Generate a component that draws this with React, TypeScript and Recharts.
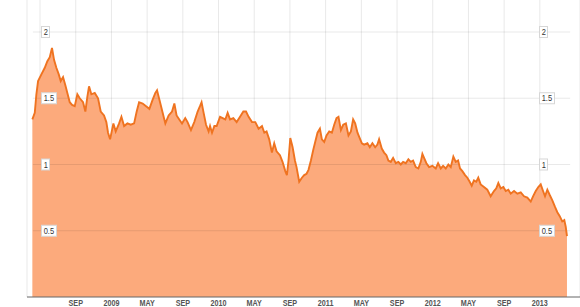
import React from "react";
import {
  ComposedChart,
  Area,
  Line,
  XAxis,
  YAxis,
  CartesianGrid,
  ReferenceLine,
} from "recharts";

// time in months since Jan 2008 (t=12 -> Jan 2009)
const months: number[] = [
  3.14, 3.41, 3.59, 3.78, 4.15, 4.53, 4.82, 5.09, 5.34, 5.57, 5.83, 6.1, 6.32, 6.58, 6.83, 7.06, 7.33, 7.59, 7.89,
  8.18, 8.45, 8.82, 9.08, 9.3, 9.49, 9.75, 10.13, 10.5, 10.8, 11.17, 11.43, 11.62, 11.85, 12.22, 12.48, 12.86,
  13.12, 13.42, 13.79, 14.16, 14.54, 14.83, 15.1, 15.5, 15.88, 16.25, 16.62, 16.92, 17.11, 17.37, 17.74, 18.04,
  18.41, 18.79, 19.05, 19.3, 19.6, 19.91, 20.27, 20.53, 20.91, 21.28, 21.66, 21.92, 22.1, 22.33, 22.6, 22.89,
  23.05, 23.27, 23.53, 23.79, 24.17, 24.46, 24.76, 25.02, 25.29, 25.66, 26.03, 26.41, 26.78, 27.08, 27.37, 27.75,
  28.12, 28.49, 28.87, 29.13, 29.38, 29.68, 29.98, 30.24, 30.5, 30.88, 31.17, 31.48, 31.66, 31.84, 32.04, 32.3,
  32.56, 32.74, 33.04, 33.34, 33.6, 33.86, 34.08, 34.35, 34.61, 34.83, 35.09, 35.36, 35.58, 35.84, 36.1, 36.4,
  36.7, 36.96, 37.22, 37.44, 37.71, 37.97, 38.27, 38.56, 38.83, 39.08, 39.31, 39.57, 39.75, 40.06, 40.31, 40.68,
  40.95, 41.24, 41.55, 41.8, 41.99, 42.29, 42.55, 42.81, 43.03, 43.3, 43.56, 43.86, 44.15, 44.42, 44.68, 44.98,
  45.27, 45.54, 45.8, 46.1, 46.39, 46.66, 46.84, 47.03, 47.29, 47.59, 47.96, 48.34, 48.6, 48.9, 49.16, 49.46,
  49.75, 50.02, 50.31, 50.58, 50.84, 51.06, 51.32, 51.62, 51.88, 52.14, 52.37, 52.62, 52.88, 53.1, 53.37, 53.74,
  54.11, 54.49, 54.86, 55.12, 55.35, 55.62, 55.91, 56.18, 56.47, 56.74, 57.11, 57.48, 57.86, 58.23, 58.6, 58.98,
  59.24, 59.54, 59.83, 60.1, 60.36, 60.58, 60.84, 61.11, 61.4, 61.7, 61.96, 62.23, 62.51, 62.74, 62.9, 63.04,
];

const values: number[] = [
  1.34, 1.39, 1.53, 1.63, 1.68, 1.73, 1.78, 1.81, 1.88, 1.79, 1.73, 1.68, 1.63, 1.66, 1.6, 1.54, 1.47, 1.45, 1.44,
  1.53, 1.5, 1.47, 1.4, 1.51, 1.59, 1.53, 1.54, 1.5, 1.4, 1.37, 1.32, 1.24, 1.19, 1.31, 1.25, 1.31,
  1.36, 1.29, 1.31, 1.3, 1.31, 1.4, 1.47, 1.46, 1.44, 1.42, 1.49, 1.54, 1.56, 1.49, 1.39, 1.31,
  1.37, 1.4, 1.46, 1.37, 1.34, 1.31, 1.35, 1.32, 1.26, 1.32, 1.4, 1.44, 1.47, 1.39, 1.3, 1.25,
  1.29, 1.24, 1.29, 1.29, 1.36, 1.35, 1.34, 1.39, 1.34, 1.35, 1.32, 1.36, 1.4, 1.4, 1.36, 1.32,
  1.32, 1.27, 1.29, 1.24, 1.25, 1.19, 1.09, 1.16, 1.1, 1.07, 1.02, 0.95, 0.92, 1.03, 1.2, 1.13,
  1.03, 0.98, 0.87, 0.9, 0.92, 0.93, 0.96, 1.03, 1.11, 1.17, 1.24, 1.27, 1.19, 1.17, 1.22, 1.25,
  1.24, 1.3, 1.35, 1.36, 1.26, 1.3, 1.31, 1.22, 1.25, 1.34, 1.31, 1.24, 1.21, 1.16, 1.15, 1.16,
  1.13, 1.16, 1.13, 1.15, 1.19, 1.12, 1.09, 1.07, 1.03, 1.02, 1.05, 1.01, 1.02, 1.0, 1.02, 1.01,
  1.04, 1.02, 1.03, 0.98, 0.97, 1.02, 1.08, 1.05, 1.01, 0.98, 0.99, 0.97, 1.01, 0.97, 0.99, 0.97,
  1.0, 0.98, 1.06, 1.02, 1.03, 0.97, 0.95, 0.92, 0.9, 0.87, 0.84, 0.88, 0.87, 0.9, 0.85, 0.83,
  0.81, 0.76, 0.8, 0.82, 0.86, 0.82, 0.83, 0.8, 0.81, 0.78, 0.8, 0.78, 0.79, 0.76, 0.75, 0.72,
  0.76, 0.8, 0.83, 0.85, 0.8, 0.76, 0.81, 0.77, 0.73, 0.68, 0.64, 0.61, 0.57, 0.58, 0.53, 0.46,
];

const xTicks: number[] = [4, 8, 12, 16, 20, 24, 28, 32, 36, 40, 44, 48, 52, 56, 60];
const xTickLabels: string[] = [
  "", "SEP", "2009", "MAY", "SEP", "2010", "MAY", "SEP", "2011", "MAY", "SEP", "2012", "MAY", "SEP", "2013",
];
const yTicks: number[] = [0.5, 1, 1.5, 2];
const yTickLabels: string[] = ["0.5", "1", "1.5", "2"];

const data = months.map((t, i) => ({ t, v: values[i] }));

const FONT = "'Liberation Sans', Arial, sans-serif";

const YLabelPair = ({ viewBox, label }: any) => {
  const y = viewBox ? viewBox.y : 0;
  const w = label.length > 1 ? 15 : 8;
  const boxes = [41.5, 539.5];
  return (
    <g>
      {boxes.map((bx) => (
        <g key={bx}>
          <rect x={bx} y={y - 5.5} width={w} height={11} fill="#ffffff" stroke="#d6d6d6" strokeWidth={1} />
          <text
            transform={`translate(${bx + 2.2}, ${y + 3.2}) scale(0.88, 1)`}
            fontSize={8.5}
            fontFamily={FONT}
            fill="#333333"
          >
            {label}
          </text>
        </g>
      ))}
    </g>
  );
};

const XTick = (props: any) => {
  const { x, payload } = props;
  const idx = xTicks.indexOf(payload.value);
  const label = idx >= 0 ? xTickLabels[idx] : "";
  return (
    <text
      transform={`translate(${x}, 306) scale(0.8, 1)`}
      textAnchor="middle"
      fontSize={9}
      fontWeight="bold"
      fontFamily={FONT}
      fill="#555555"
    >
      {label}
    </text>
  );
};

export default function App() {
  const gridStart = 3.2;
  const gridEnd = 63.4;
  return (
    <div style={{ position: "absolute", left: 0, top: 0, width: 580, height: 307, background: "#ffffff" }}>
      <ComposedChart width={580} height={307} data={data} margin={{ top: 0, right: 0, bottom: 0, left: 27 }}>
        <XAxis
          dataKey="t"
          type="number"
          domain={[2.54, 64.5]}
          ticks={xTicks}
          interval={0}
          height={10}
          tickLine={false}
          tickSize={0}
          axisLine={{ stroke: "#666666", strokeWidth: 1 }}
          tick={<XTick />}
          allowDataOverflow
        />
        <YAxis
          yAxisId="left"
          type="number"
          domain={[0, 2.2415]}
          ticks={yTicks}
          hide
          allowDataOverflow
        />
        <Area
          yAxisId="left"
          dataKey="v"
          type="linear"
          stroke="none"
          fill="#fcaa7c"
          fillOpacity={1}
          isAnimationActive={false}
        />
        <CartesianGrid yAxisId="left" horizontal={false} vertical stroke="rgba(0,0,0,0.09)" />
        {yTicks.map((yv) => (
          <ReferenceLine
            key={"g" + yv}
            yAxisId="left"
            segment={[
              { x: gridStart, y: yv },
              { x: gridEnd, y: yv },
            ]}
            stroke="rgba(0,0,0,0.09)"
            strokeWidth={1}
          />
        ))}
        <Line
          yAxisId="left"
          dataKey="v"
          type="linear"
          stroke="#ef7320"
          strokeWidth={1.9}
          dot={false}
          isAnimationActive={false}
        />
        {yTicks.map((yv, i) => (
          <ReferenceLine
            key={"l" + yv}
            yAxisId="left"
            y={yv}
            stroke="none"
            label={<YLabelPair label={yTickLabels[i]} />}
          />
        ))}
      </ComposedChart>
    </div>
  );
}
